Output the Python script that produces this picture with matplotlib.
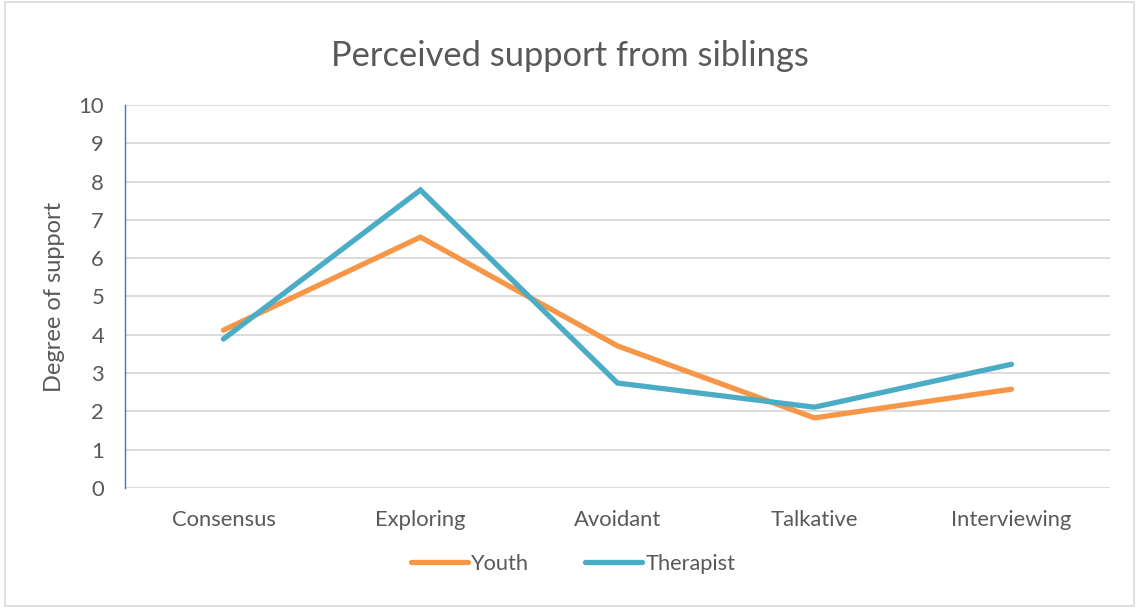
import matplotlib.pyplot as plt
from matplotlib.patches import Rectangle

categories = ['Consensus', 'Exploring', 'Avoidant', 'Talkative', 'Interviewing']
youth = [4.12, 6.55, 3.71, 1.83, 2.58]
therapist = [3.89, 7.78, 2.74, 2.11, 3.23]

plt.rcParams['font.family'] = ['Lato', 'DejaVu Sans']
txt = '#595959'

fig = plt.figure(figsize=(11.39, 6.08), dpi=100)
ax = fig.add_axes([0.1097, 0.1974, 0.8648, 0.6299])

x = range(len(categories))
ax.plot(x, youth, color='#F79646', lw=3.8, solid_capstyle='round',
        solid_joinstyle='miter', label='Youth', zorder=3)
ax.plot(x, therapist, color='#4BACC6', lw=3.8, solid_capstyle='round',
        solid_joinstyle='miter', label='Therapist', zorder=3)

ax.set_xlim(-0.5, 4.5)
ax.set_ylim(0, 10)
ax.set_yticks(range(0, 11))
ax.set_xticks(list(x))
ax.set_xticklabels(categories)
ax.tick_params(axis='both', length=0, labelsize=15.8, colors=txt)
ax.tick_params(axis='x', pad=16)
ax.tick_params(axis='y', pad=15)
ax.grid(axis='y', color='#D9D9D9', lw=1.3)
ax.set_axisbelow(True)
for s in ['top', 'right', 'bottom']:
    ax.spines[s].set_visible(False)
ax.spines['left'].set_color('#4472C4')
ax.spines['left'].set_linewidth(1.0)

ax.set_ylabel('Degree of support', fontsize=17, color=txt, labelpad=10)
fig.suptitle('Perceived support from siblings', fontsize=24.8, color=txt, y=0.935)

ax.legend(loc='upper center', bbox_to_anchor=(0.455, -0.12), ncol=2, frameon=False,
          fontsize=15.7, labelcolor=txt, handlelength=2.6, handletextpad=0.15,
          columnspacing=2.6)

fig.patches.append(Rectangle((0.004, 0.004), 0.992, 0.992, transform=fig.transFigure,
                             fill=False, edgecolor='#D9D9D9', lw=1.2))

fig.savefig('out.png', dpi=100)
